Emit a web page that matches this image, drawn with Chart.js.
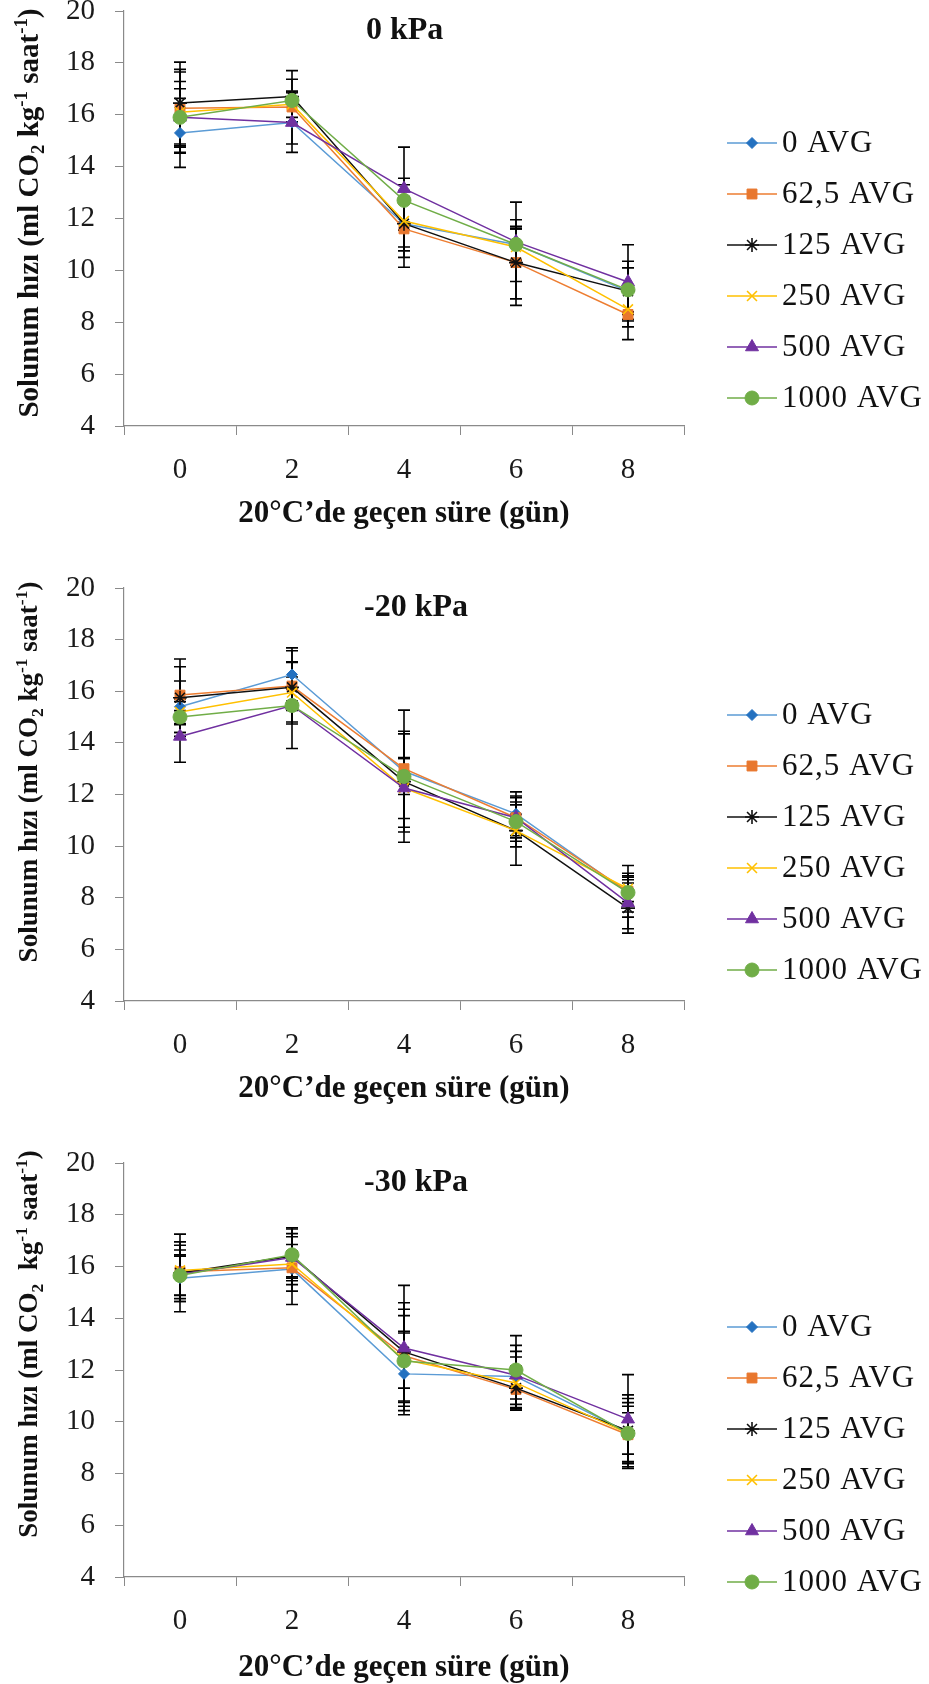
<!DOCTYPE html>
<html>
<head>
<meta charset="utf-8">
<script src="https://cdn.jsdelivr.net/npm/chart.js@4.4.1/dist/chart.umd.min.js"></script>
<style>
  html, body { margin: 0; padding: 0; background: #fff; }
  #page { position: relative; width: 929px; height: 1684px; overflow: hidden; }
  canvas { position: absolute; left: 0; }
</style>
</head>
<body>
<div id="page">
  <canvas id="p1" width="929" height="562" style="top:0px"></canvas>
  <canvas id="p2" width="929" height="562" style="top:562px"></canvas>
  <canvas id="p3" width="929" height="560" style="top:1124px"></canvas>
</div>
<script>
// x categories (days at 20 C) and series names
const days = ['0', '2', '4', '6', '8'];
const doses = ['0 AVG', '62,5 AVG', '125 AVG', '250 AVG', '500 AVG', '1000 AVG'];
const yMin = 4, yMax = 20, yStep = 2;

// respiration rate, one row per dose (0, 62.5, 125, 250, 500, 1000 AVG)
const resp0kPa = [
    [15.3, 15.7, 11.8, 11.0, 9.2],
    [16.25, 16.3, 11.6, 10.3, 8.3],
    [16.45, 16.7, 11.8, 10.3, 9.2],
    [16.1, 16.4, 11.9, 10.9, 8.5],
    [15.9, 15.7, 13.15, 11.1, 9.55],
    [15.9, 16.55, 12.7, 11.0, 9.25]
];
const err0kPa = [
    [1.33, 0.83, 0.9, 0.6, 0.9],
    [1.5, 0.6, 1.48, 1.4, 0.97],
    [1.58, 1.0, 1.05, 1.65, 1.15],
    [1.55, 0.5, 1.4, 0.7, 0.68],
    [1.38, 1.15, 1.6, 1.53, 1.44],
    [1.1, 0.82, 0.85, 0.63, 0.85]
];

const resp20kPa = [
    [15.4, 16.65, 12.9, 11.25, 8.2],
    [15.85, 16.2, 13.0, 11.1, 8.25],
    [15.75, 16.15, 12.5, 10.6, 7.6],
    [15.2, 15.95, 12.25, 10.6, 8.35],
    [14.25, 15.45, 12.25, 11.1, 7.8],
    [15.0, 15.45, 12.7, 10.95, 8.2]
];
const err20kPa = [
    [1.0, 1.03, 0.5, 0.85, 0.75],
    [1.1, 0.94, 2.27, 0.78, 1.0],
    [1.5, 1.42, 1.95, 1.34, 0.97],
    [0.5, 0.6, 1.18, 0.63, 0.5],
    [1.0, 0.64, 2.1, 0.5, 1.0],
    [0.6, 1.67, 0.7, 0.76, 0.5]
];

const resp30kPa = [
    [15.55, 15.9, 11.85, 11.75, 9.6],
    [15.8, 15.95, 12.55, 11.25, 9.5],
    [15.75, 16.4, 12.7, 11.3, 9.65],
    [15.85, 16.1, 12.4, 11.5, 9.55],
    [15.7, 16.35, 12.85, 11.8, 10.1],
    [15.65, 16.45, 12.35, 12.0, 9.55]
];
const err30kPa = [
    [0.9, 1.37, 1.58, 1.2, 1.14],
    [1.15, 0.9, 1.8, 0.75, 1.1],
    [1.5, 1.1, 1.9, 0.85, 1.39],
    [0.97, 0.5, 1.1, 1.0, 0.8],
    [0.94, 0.8, 2.42, 0.92, 1.72],
    [0.75, 1.0, 1.75, 1.33, 1.35]
];

// series look
const lineColors = ['#5B9BD5', '#ED7D31', '#111111', '#FFC000', '#7030A0', '#70AD47'];
const markerColors = ['#2471C0', '#E8772E', '#111111', '#FFC000', '#7030A0', '#70AD47'];
const markerStyles = ['rectRot', 'rect', 'star', 'crossRot', 'triangle', 'circle'];
const markerRadius = [5.5, 7, 7, 7, 7.5, 7];

const FONT = "'Liberation Serif', 'Times New Roman', serif";
Chart.defaults.font.family = FONT;

// black error bars, drawn under the markers
const errorBars = {
    id: 'errorBars',
    beforeDatasetsDraw(chart) {
        const ctx = chart.ctx;
        const y = chart.scales.y;
        ctx.save();
        ctx.strokeStyle = '#000';
        ctx.lineWidth = 1.6;
        chart.data.datasets.forEach((ds, i) => {
            const meta = chart.getDatasetMeta(i);
            meta.data.forEach((pt, j) => {
                const v = ds.data[j], e = ds.errors[j];
                const top = y.getPixelForValue(v + e);
                const bot = y.getPixelForValue(v - e);
                const x = pt.x;
                ctx.beginPath();
                ctx.moveTo(x, top); ctx.lineTo(x, bot);
                ctx.moveTo(x - 6, top); ctx.lineTo(x + 6, top);
                ctx.moveTo(x - 6, bot); ctx.lineTo(x + 6, bot);
                ctx.stroke();
            });
        });
        ctx.restore();
    }
};

// panel title, axis titles and the line+marker legend
const panelText = {
    id: 'panelText',
    afterDraw(chart, args, o) {
        const ctx = chart.ctx;
        const area = chart.chartArea;
        ctx.save();
        ctx.fillStyle = '#111';

        // title inside the plot
        ctx.font = 'bold 32px ' + FONT;
        ctx.textAlign = 'left';
        ctx.textBaseline = 'middle';
        ctx.fillText(o.title, o.titleX, area.top + 20);

        // x axis title
        ctx.font = 'bold 31px ' + FONT;
        ctx.textAlign = 'center';
        ctx.fillText('20°C’de geçen süre (gün)', (area.left + area.right) / 2, area.bottom + o.xTitleGap);

        // y axis title with sub/superscripts
        const size = o.yTitleSize;
        const parts = [
            { t: 'Solunum hızı (ml CO', s: 1, dy: 0 },
            { t: '2', s: 0.65, dy: 0.22 },
            { t: o.coGap + 'kg', s: 1, dy: 0 },
            { t: '-1', s: 0.65, dy: -0.38 },
            { t: ' saat', s: 1, dy: 0 },
            { t: '-1', s: 0.65, dy: -0.38 },
            { t: ')', s: 1, dy: 0 }
        ];
        let total = 0;
        parts.forEach(p => {
            ctx.font = 'bold ' + (size * p.s) + 'px ' + FONT;
            p.w = ctx.measureText(p.t).width;
            total += p.w;
        });
        ctx.translate(o.yTitleX, area.top + o.yTitleMid);
        ctx.rotate(-Math.PI / 2);
        ctx.textAlign = 'left';
        ctx.textBaseline = 'alphabetic';
        let cx = -total / 2;
        parts.forEach(p => {
            ctx.font = 'bold ' + (size * p.s) + 'px ' + FONT;
            ctx.fillText(p.t, cx, size * 0.33 + p.dy * size);
            cx += p.w;
        });
        ctx.setTransform(1, 0, 0, 1, 0, 0);

        // legend
        chart.data.datasets.forEach((ds, i) => {
            const ly = o.legendTop + i * 51;
            ctx.strokeStyle = ds.borderColor;
            ctx.lineWidth = 1.5;
            ctx.beginPath();
            ctx.moveTo(727, ly); ctx.lineTo(777, ly);
            ctx.stroke();
            ctx.fillStyle = ds.pointBackgroundColor;
            ctx.strokeStyle = ds.pointBorderColor;
            ctx.lineWidth = ds.pointBorderWidth;
            Chart.helpers.drawPoint(ctx, {
                pointStyle: ds.pointStyle,
                radius: ds.pointRadius,
                rotation: 0,
                borderWidth: ds.pointBorderWidth
            }, 752, ly);
            ctx.fillStyle = '#111';
            ctx.font = '31px ' + FONT;
            ctx.letterSpacing = '1px';
            ctx.textAlign = 'left';
            ctx.textBaseline = 'middle';
            ctx.fillText(ds.label, 782, ly + 1);
            ctx.letterSpacing = '0px';
        });
        ctx.restore();
    }
};

function makePanel(id, values, errors, cfg) {
    const datasets = doses.map((name, i) => ({
        label: name,
        data: values[i],
        errors: errors[i],
        borderColor: lineColors[i],
        borderWidth: 1.5,
        pointStyle: markerStyles[i],
        pointRadius: markerRadius[i],
        pointBackgroundColor: markerColors[i],
        pointBorderColor: markerColors[i],
        pointBorderWidth: (i === 2 || i === 3) ? 1.6 : 1,
        tension: 0,
        fill: false,
        order: 5 - i
    }));

    return new Chart(document.getElementById(id), {
        type: 'line',
        data: { labels: days, datasets: datasets },
        options: {
            responsive: false,
            animation: false,
            events: [],
            layout: { padding: { top: cfg.top, right: 245, left: 0, bottom: 0 } },
            plugins: {
                legend: { display: false },
                tooltip: { enabled: false },
                panelText: cfg.text
            },
            scales: {
                x: {
                    type: 'category',
                    offset: true,
                    grid: { offset: true, drawOnChartArea: false, color: '#8a8a8a', tickLength: 9 },
                    border: { color: '#8a8a8a', width: 1.2 },
                    ticks: { color: '#1a1a1a', font: { size: 29 }, padding: 18, maxRotation: 0 },
                    afterFit: (s) => {
                        s.height = cfg.xHeight;
                        s.paddingLeft = 0;
                        s.paddingRight = 0;
                    }
                },
                y: {
                    min: yMin,
                    max: yMax,
                    grid: { drawOnChartArea: false, color: '#8a8a8a', tickLength: 9 },
                    border: { color: '#8a8a8a', width: 1.2 },
                    ticks: { stepSize: yStep, color: '#1a1a1a', font: { size: 29 }, padding: 20 },
                    afterFit: (s) => {
                        s.width = 124;
                        s.paddingTop = 0;
                        s.paddingBottom = 0;
                    }
                }
            }
        },
        plugins: [errorBars, panelText]
    });
}

makePanel('p1', resp0kPa, err0kPa, {
    top: 11, xHeight: 136,
    text: { title: '0 kPa', titleX: 366, xTitleGap: 88, yTitleX: 28, yTitleMid: 202, yTitleSize: 29, coGap: ' ', legendTop: 143 }
});
makePanel('p2', resp20kPa, err20kPa, {
    top: 26, xHeight: 123,
    text: { title: '-20 kPa', titleX: 364, xTitleGap: 88, yTitleX: 28, yTitleMid: 184, yTitleSize: 27, coGap: ' ', legendTop: 153 }
});
makePanel('p3', resp30kPa, err30kPa, {
    top: 39, xHeight: 107,
    text: { title: '-30 kPa', titleX: 364, xTitleGap: 91, yTitleX: 28, yTitleMid: 181, yTitleSize: 27, coGap: '  ', legendTop: 203 }
});
</script>
</body>
</html>
